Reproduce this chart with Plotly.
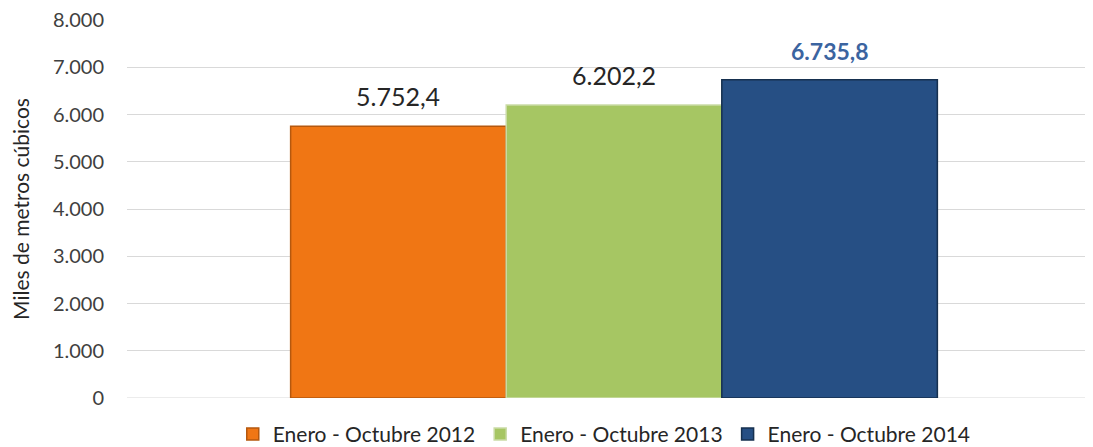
import plotly.graph_objects as go

categorias = [""]
series = ["Enero - Octubre 2012", "Enero - Octubre 2013", "Enero - Octubre 2014"]
valores = [5752.4, 6202.2, 6735.8]
etiquetas = ["5.752,4", "6.202,2", "<b>6.735,8</b>"]
colores = ["#F07614", "#A6C663", "#264F84"]
bordes = ["#B5580E", "#CADBA6", "#16304F"]
color_texto = ["#262626", "#262626", "#3B64A0"]
tam_texto = [25, 25, 23]
ticks_y = [0, 1000, 2000, 3000, 4000, 5000, 6000, 7000, 8000]

bargap = 0.336
ancho = (1 - bargap) / len(series)

fig = go.Figure()
for i in range(len(series)):
    fig.add_trace(go.Bar(
        x=categorias, y=[valores[i]], name=series[i],
        marker=dict(color=colores[i], line=dict(color=bordes[i], width=1.5)),
    ))
    # etiqueta de valor encima de cada barra
    fig.add_annotation(
        x=(i - (len(series) - 1) / 2) * ancho, y=valores[i],
        text=etiquetas[i], showarrow=False, yanchor="bottom", yshift=13,
        font=dict(color=color_texto[i], size=tam_texto[i], family="Lato"),
    )

# el body de la pagina deja 8px arriba y a la izquierda: se descuenta de los margenes
fig.update_layout(
    width=1093, height=447,
    margin=dict(l=119, r=0, t=11.5, b=56.5, autoexpand=False),
    paper_bgcolor="white", plot_bgcolor="white",
    separators=",.",
    barmode="group", bargap=bargap, bargroupgap=0,
    font=dict(family="Lato", color="#404040"),
    showlegend=True,
    legend=dict(orientation="h", x=0.49, xanchor="center", y=-0.096, yanchor="middle",
                font=dict(size=21, color="#262626"), traceorder="normal",
                itemwidth=30),
)
fig.update_yaxes(range=[0, 8000], tickvals=ticks_y, tickformat=",d", automargin=False,
                 ticklabeloverflow="allow",
                 showgrid=True, gridcolor="#D9D9D9", gridwidth=1,
                 zeroline=False, showline=False, ticks="outside", ticklen=18, tickcolor="white",
                 tickfont=dict(size=20, color="#404040"),
                 title=dict(text="Miles de metros cúbicos", font=dict(size=21, color="#262626"), standoff=22))
fig.update_xaxes(showticklabels=False, showline=False, showgrid=False, automargin=False)
fig.add_hline(y=0, line_color="#D9D9D9", line_width=1, layer="below")

fig.write_html("out.html")
